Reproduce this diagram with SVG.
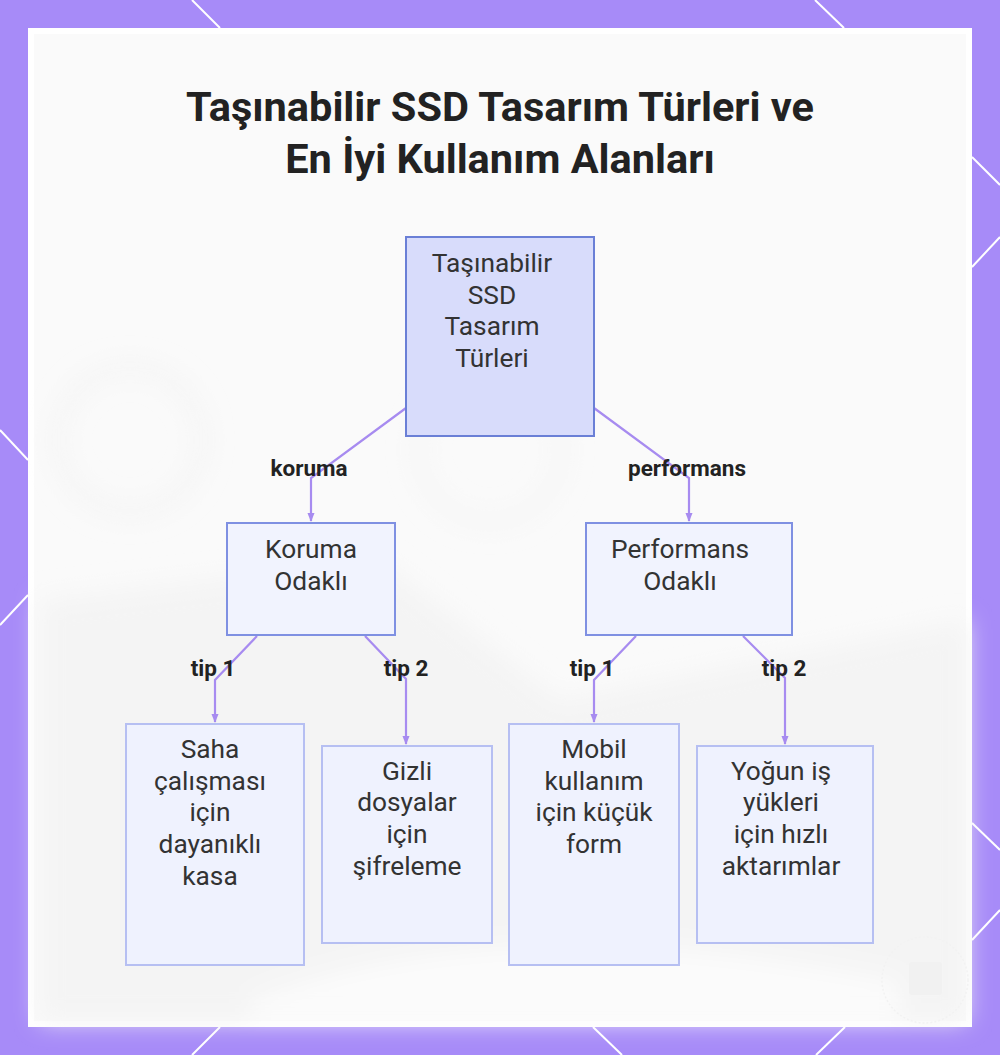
<svg xmlns="http://www.w3.org/2000/svg" width="1000" height="1055" viewBox="0 0 1000 1055">
  <defs>
    <style>
      .title { font-family: Roboto, "Liberation Sans", sans-serif; font-weight: 700; font-size: 41.5px; fill: #222222; text-anchor: middle; }
      .ntext { font-family: Roboto, "Liberation Sans", sans-serif; font-size: 26.3px; fill: #333333; text-anchor: middle; }
      .elabel { font-family: Roboto, "Liberation Sans", sans-serif; font-weight: 700; font-size: 22.5px; fill: #222222; text-anchor: middle; }
      .root { fill: #d8dcfb; stroke: #6a7fd6; stroke-width: 2; }
      .mid { fill: #f1f3fe; stroke: #7f90e2; stroke-width: 2; }
      .leaf { fill: #eff2fe; stroke: #b6bff2; stroke-width: 2; }
      .edge { fill: none; stroke: #a78bf0; stroke-width: 2.2; }
      .deco { stroke: #ffffff; stroke-width: 2; fill: none; }
    </style>
    <marker id="arr" viewBox="0 0 10 10" refX="9" refY="5" markerWidth="4" markerHeight="4" orient="auto" markerUnits="strokeWidth">
      <path d="M0,1 L10,5 L0,9 z" fill="#a78bf0"/>
    </marker>
    <filter id="blur" x="-20%" y="-20%" width="140%" height="140%">
      <feGaussianBlur stdDeviation="12"/>
    </filter>
  </defs>

  <!-- frame -->
  <rect x="0" y="0" width="1000" height="1055" fill="#a78bf8"/>
  <g class="deco">
    <line x1="192" y1="0" x2="220" y2="28"/>
    <line x1="815" y1="0" x2="844" y2="28"/>
    <line x1="0" y1="430" x2="28" y2="460"/>
    <line x1="28" y1="595" x2="0" y2="625"/>
    <line x1="972" y1="157" x2="1000" y2="185"/>
    <line x1="972" y1="267" x2="1000" y2="237"/>
    <line x1="972" y1="823" x2="1000" y2="850"/>
    <line x1="972" y1="940" x2="1000" y2="910"/>
    <line x1="220" y1="1027" x2="192" y2="1055"/>
    <line x1="593" y1="1027" x2="622" y2="1055"/>
    <line x1="845" y1="1027" x2="816" y2="1055"/>
  </g>
  <rect x="28" y="28" width="944" height="999" fill="#ffffff"/>
  <rect x="34" y="34" width="932" height="987" fill="#fafafa"/>
  <g filter="url(#blur)">
    <ellipse cx="130" cy="440" rx="72" ry="72" fill="none" stroke="#f0f0f0" stroke-width="8"/>
    <ellipse cx="490" cy="450" rx="72" ry="72" fill="none" stroke="#f2f2f2" stroke-width="8"/>
    <path d="M40,600 L380,560 L560,700 L966,620 L966,1021 L40,1021 z" fill="#f4f4f4"/>
    <path d="M250,1000 Q500,900 900,980 L900,1021 L250,1021 z" fill="#fbfbfb"/>
  </g>
  <circle cx="925" cy="980" r="43" fill="none" stroke="#f2f2f2" stroke-width="1.5" stroke-dasharray="2 2"/>
  <rect x="909" y="962" width="33" height="33" rx="3" fill="#f1f1f1"/>

  <!-- title -->
  <text class="title" x="500" y="121">Taşınabilir SSD Tasarım Türleri ve</text>
  <text class="title" x="500" y="173">En İyi Kullanım Alanları</text>

  <!-- connectors -->
  <g id="connectors">
    <polyline class="edge" points="406,408 311,478 311,521" marker-end="url(#arr)"/>
    <polyline class="edge" points="594,408 689,478 689,521" marker-end="url(#arr)"/>
    <polyline class="edge" points="257,636 215,680 215,722" marker-end="url(#arr)"/>
    <polyline class="edge" points="365,636 406,679 406,744" marker-end="url(#arr)"/>
    <polyline class="edge" points="636,636 594,680 594,722" marker-end="url(#arr)"/>
    <polyline class="edge" points="743,636 785,678 785,744" marker-end="url(#arr)"/>
    <text class="elabel" x="309" y="476">koruma</text>
    <text class="elabel" x="687" y="476">performans</text>
    <text class="elabel" x="213" y="676">tip 1</text>
    <text class="elabel" x="406" y="676">tip 2</text>
    <text class="elabel" x="592" y="676">tip 1</text>
    <text class="elabel" x="784" y="676">tip 2</text>
  </g>

  <!-- nodes -->
  <g id="node-root">
    <rect class="root" x="406" y="237" width="188" height="199"/>
    <text class="ntext" x="492" y="272">Taşınabilir</text>
    <text class="ntext" x="492" y="304">SSD</text>
    <text class="ntext" x="492" y="335">Tasarım</text>
    <text class="ntext" x="492" y="367">Türleri</text>
  </g>
  <g id="node-koruma">
    <rect class="mid" x="227" y="523" width="168" height="112"/>
    <text class="ntext" x="311" y="558">Koruma</text>
    <text class="ntext" x="311" y="590">Odaklı</text>
  </g>
  <g id="node-performans">
    <rect class="mid" x="586" y="523" width="206" height="112"/>
    <text class="ntext" x="680" y="558">Performans</text>
    <text class="ntext" x="680" y="590">Odaklı</text>
  </g>
  <g id="node-saha">
    <rect class="leaf" x="126" y="724" width="178" height="241"/>
    <text class="ntext" x="210" y="758">Saha</text>
    <text class="ntext" x="210" y="790">çalışması</text>
    <text class="ntext" x="210" y="821">için</text>
    <text class="ntext" x="210" y="853">dayanıklı</text>
    <text class="ntext" x="210" y="885">kasa</text>
  </g>
  <g id="node-gizli">
    <rect class="leaf" x="322" y="746" width="170" height="197"/>
    <text class="ntext" x="407" y="780">Gizli</text>
    <text class="ntext" x="407" y="811">dosyalar</text>
    <text class="ntext" x="407" y="843">için</text>
    <text class="ntext" x="407" y="875">şifreleme</text>
  </g>
  <g id="node-mobil">
    <rect class="leaf" x="509" y="724" width="170" height="241"/>
    <text class="ntext" x="594" y="758">Mobil</text>
    <text class="ntext" x="594" y="790">kullanım</text>
    <text class="ntext" x="594" y="821">için küçük</text>
    <text class="ntext" x="594" y="853">form</text>
  </g>
  <g id="node-yogun">
    <rect class="leaf" x="697" y="746" width="176" height="197"/>
    <text class="ntext" x="781" y="780">Yoğun iş</text>
    <text class="ntext" x="781" y="811">yükleri</text>
    <text class="ntext" x="781" y="843">için hızlı</text>
    <text class="ntext" x="781" y="875">aktarımlar</text>
  </g>
</svg>
